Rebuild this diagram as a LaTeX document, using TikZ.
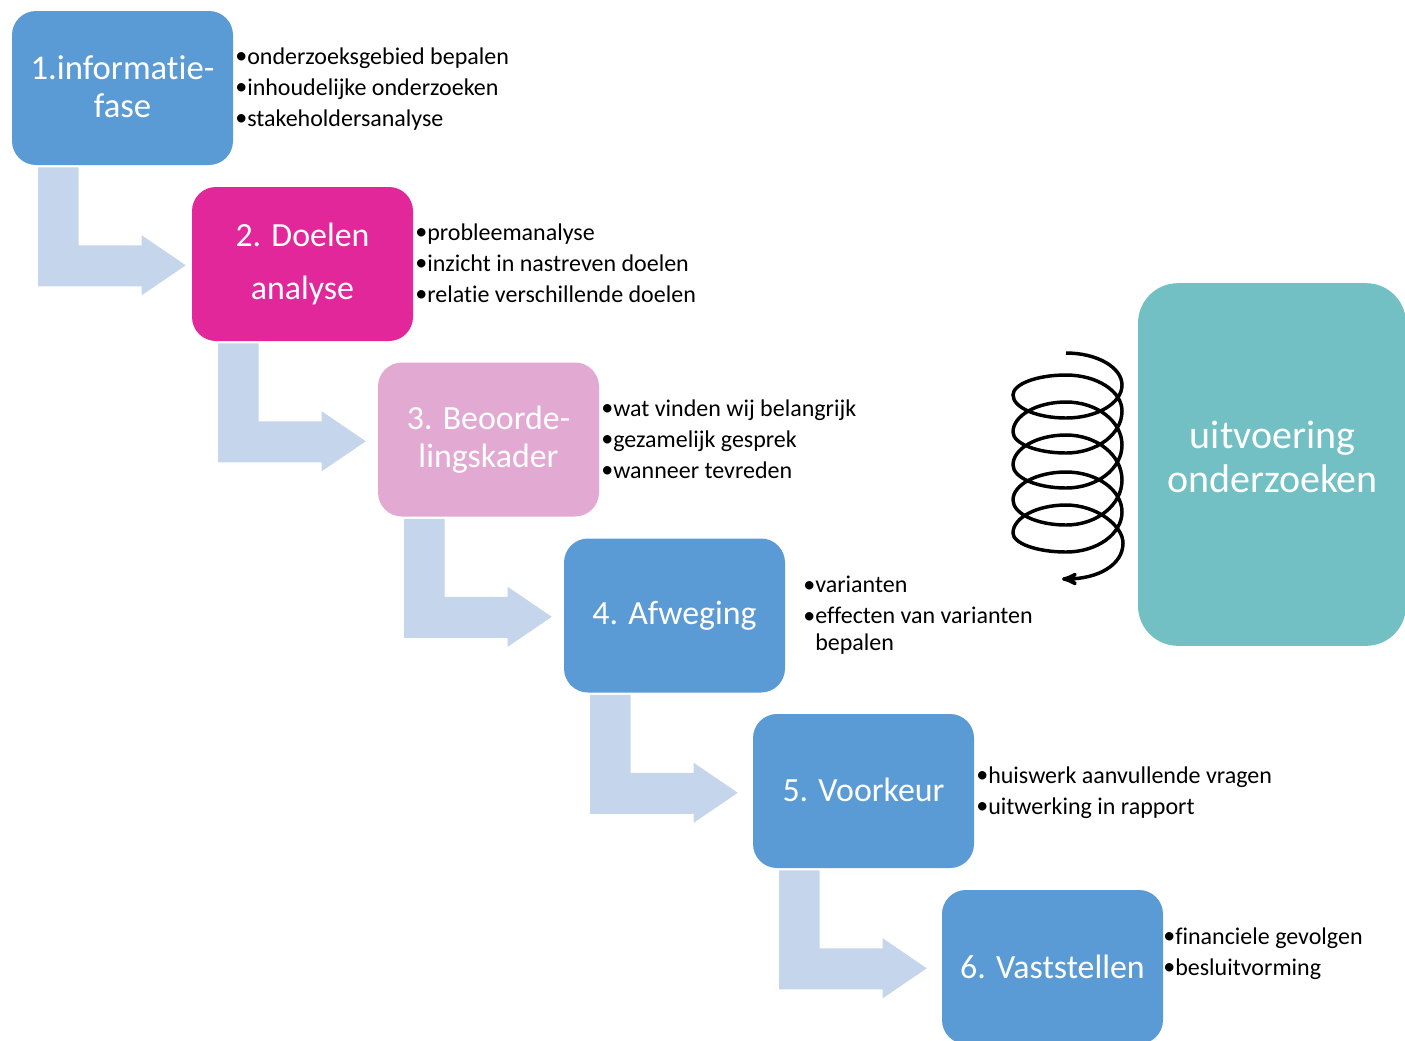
\documentclass[tikz,border=0pt]{standalone}
\usepackage{fontspec}
\setmainfont{Carlito}[Ligatures=CommonOff]
\usetikzlibrary{arrows}
\definecolor{faseblue}{HTML}{5B9BD5}
\definecolor{fasepink}{HTML}{E2279A}
\definecolor{faselight}{HTML}{E2A9D2}
\definecolor{fiteal}{HTML}{72BFC4}
\definecolor{elbowblue}{HTML}{C5D5EB}
\newcommand{\bul}{\makebox[9pt][l]{\raisebox{0.5pt}{•}}}
\tikzset{
	fase/.style = {align=center, inner sep=0pt, text centered, white,
		font=\fontsize{25.4}{28.5}\selectfont, rectangle, rounded corners=18pt,
		minimum width=165.75pt, minimum height=115.5pt},
	fase_b/.style = {fase, fill=faseblue},
	fase_p/.style = {fase, fill=fasepink},
	fase_l/.style = {fase, fill=faselight},
	run_box/.style = {fase, fill=fiteal, rounded corners=30pt,
		minimum width=201pt, minimum height=272pt},
	run_txt/.style = {align=center, inner sep=0pt, white, font=\fontsize{30}{32.5}\selectfont},
	steps/.style = {align=left, inner sep=0pt, anchor=north west,
		font=\fontsize{18}{20.25}\selectfont},
	elbow/.style = {fill=elbowblue, draw=none}
}
\begin{document}
\begin{tikzpicture}[x=0.75pt,y=-0.75pt]
\useasboundingbox (0,0) rectangle (1405,1040);
% fases
\node [fase_b,font=\fontsize{26}{28.5}\selectfont] (f1) at (122.5,88) {\raisebox{1.5pt}{1.informatie-}\\\raisebox{1.5pt}{fase}};
\node [fase_p,font=\fontsize{25.4}{40}\selectfont] (f2) at (302.5,264) {2. Doelen\\analyse};
\node [fase_l] (f3) at (488.5,439.5) {3. Beoorde-\\lingskader};
\node [fase_b] (f4) at (674.5,615.5) {4. Afweging};
\node [fase_b] (f5) at (863.5,791) {\raisebox{1.5pt}{5. Voorkeur}};
\node [fase_b] (f6) at (1052.5,967) {\raisebox{0.7pt}{6. Vaststellen}};
\node [run_box] (run) at (1272,464.5) {};
\node [run_txt] (run_t) at (1272.5,457) {uitvoering\\onderzoeken};
% arrows between fases
\foreach \a in {f1,f2,f3,f4,f5}
	\fill [elbow,shift={(\a.south west)}] (26.5,2) -- (67,2) -- (67,80) -- (130,80) -- (130,70)
		-- (174,100) -- (130,130) -- (130,121) -- (26.5,121) -- cycle;
% lists
\node [steps] (l1) at (235,47.5) {\bul onderzoeksgebied bepalen\\[3pt]\bul inhoudelijke onderzoeken\\[3pt]\bul stakeholdersanalyse};
\node [steps] (l2) at (415,223.5) {\bul probleemanalyse\\[3pt]\bul inzicht in nastreven doelen\\[3pt]\bul relatie verschillende doelen};
\node [steps] (l3) at (601,399.5) {\bul wat vinden wij belangrijk\\[3pt]\bul gezamelijk gesprek\\[3pt]\bul wanneer tevreden};
\node [steps] (l4) at (803,576) {\bul varianten\\[3pt]\bul effecten van varianten\\\hspace*{9pt}bepalen};
\node [steps] (l5) at (976,766.5) {\bul huiswerk aanvullende vragen\\[3pt]\bul uitwerking in rapport};
\node [steps] (l6) at (1163,927.5) {\bul financiele gevolgen\\[3pt]\bul besluitvorming};
% spiral
\draw [-stealth',line width=2.6pt] (1066,353)
	\foreach \r/\b/\l/\t [remember=\t as \p (initially 353)] in
		{385/418/395/375,411/453/432/402,445/488/465/435,480/525/500/472,512/552/533/505} {
		.. controls (1097,\p) and (1122,{\r-.55*(\r-\p)}) .. (1122,\r)
		.. controls (1122,{\r+.55*(\b-\r)}) and (1097,\b) .. (1066,\b)
		.. controls (1037,\b) and (1013,{\l+.55*(\b-\l)}) .. (1013,\l)
		.. controls (1013,{\l-.55*(\l-\t)}) and (1037,\t) .. (1066,\t)
	}
	.. controls (1097,505) and (1123,526) .. (1123,543)
	.. controls (1123,565) and (1098,579) .. (1062,579);
\end{tikzpicture}
\end{document}
